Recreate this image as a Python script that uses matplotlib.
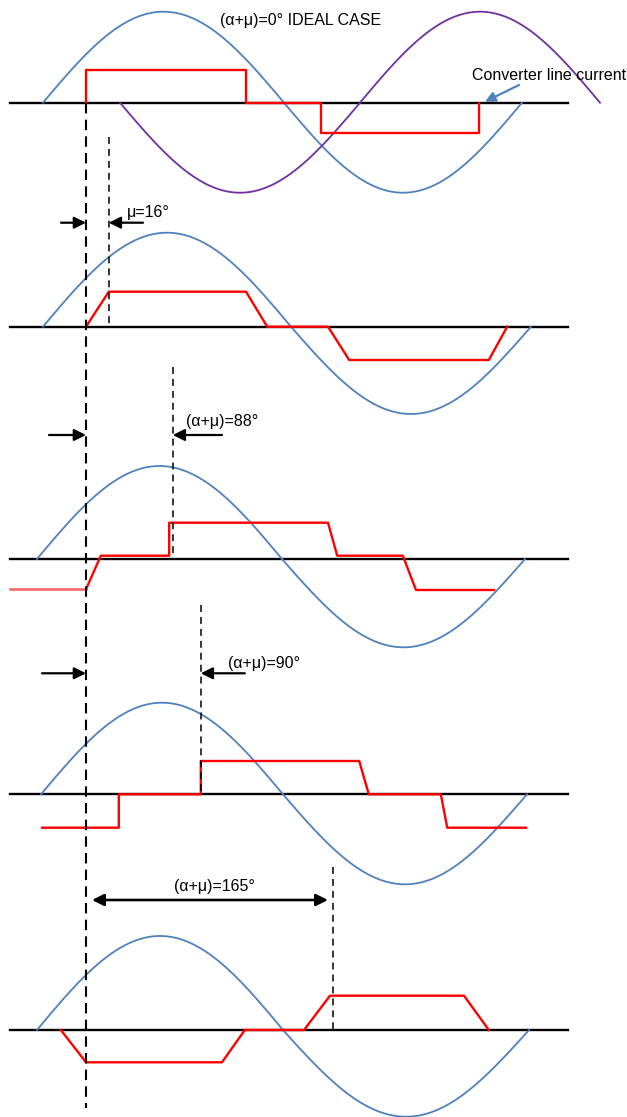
import numpy as np
import matplotlib
matplotlib.use("Agg")
import matplotlib.pyplot as plt

plt.rcParams['font.family'] = ['Liberation Sans', 'DejaVu Sans']
plt.rcParams['lines.scale_dashes'] = False

# everything is in picture pixels (x right, y down)
axis_y = [102.7, 326.7, 559.0, 794.3, 1030.0]
axis_x = [10, 568]

# supply voltage: rising zero, middle zero, end zero, peak y, trough y
blue_start = [43, 43, 37, 41, 37]
blue_cross = [284, 291, 282, 283, 283]
blue_end = [522, 531, 525, 527, 529]
blue_peak = [11.7, 232.7, 466.0, 702.7, 936.0]
blue_trough = [192.7, 414.0, 647.3, 884.3, 1116.7]

# second phase voltage in the ideal case (goes negative first)
purple_start, purple_cross, purple_end = 120, 360, 600
purple_trough, purple_peak = 192.7, 11.7

# converter line current corners
red_x = [
    [86, 86, 246, 246, 321, 321, 479, 479],
    [86, 108.8, 246, 267.2, 328, 349.2, 488.8, 507.2],
    [86, 100.8, 169.2, 169.2, 328, 337.2, 402.8, 416, 494],
    [42, 118.8, 118.8, 200.8, 200.8, 359.2, 368.8, 440.8, 447.2, 526],
    [60.8, 86, 222, 244.8, 304, 330, 464, 488.8],
]
red_y = [
    [102.7, 70, 70, 102.7, 102.7, 133.3, 133.3, 102.7],
    [326.7, 291.7, 291.7, 326.7, 326.7, 360, 360, 326.7],
    [589.3, 555.7, 555.7, 522.7, 522.7, 555.7, 555.7, 590, 590],
    [827.7, 827.7, 794.3, 794.3, 761, 761, 794.3, 794.3, 827.7, 827.7],
    [1030, 1062.3, 1062.3, 1030, 1030, 995.7, 995.7, 1030],
]
# faded lead-in of the current in the 88 degree case
lead_x = [10, 86]
lead_y = [589.3, 589.3]

# firing reference line and the end-of-overlap markers
alpha_x = 86
alpha_y = [103, 1108]
mark_x = [108.8, 172.8, 200.8, 332.8]
mark_top = [137, 366.7, 605, 866.7]
mark_bot = [326.7, 559, 794.3, 1030]

labels = ["μ=16°", "(α+μ)=88°", "(α+μ)=90°"]
label_x = [127, 186, 228]
label_y = [212.7, 421.7, 663.3]
arrow_y = [222.7, 435, 673.3]
arrow_in_x = [61, 49, 42]
arrow_out_x = [143, 222, 244.8]

BLUE = '#4f81bd'
PURPLE = '#7030a0'
RED = '#ff0000'
FS = 11.5


def half_wave(x0, x1, y0, y_ext):
    x = np.linspace(x0, x1, 120)
    return x, y0 + (y_ext - y0) * np.sin(np.pi * (x - x0) / (x1 - x0))


fig = plt.figure(figsize=(6.27, 11.17), dpi=100)
ax = fig.add_axes([0, 0, 1, 1])
ax.set_xlim(0, 627)
ax.set_ylim(1117, 0)
ax.axis('off')

for i in range(5):
    ay = axis_y[i]
    ax.plot(axis_x, [ay, ay], color='black', lw=1.7, zorder=2)
    x, y = half_wave(blue_start[i], blue_cross[i], ay, blue_peak[i])
    ax.plot(x, y, color=BLUE, lw=1.3, zorder=3)
    x, y = half_wave(blue_cross[i], blue_end[i], ay, blue_trough[i])
    ax.plot(x, y, color=BLUE, lw=1.3, zorder=3)
    ax.plot(red_x[i], red_y[i], color=RED, lw=1.7, zorder=4)

ax.plot(lead_x, lead_y, color='#f46a6a', lw=1.9, zorder=4)

x, y = half_wave(purple_start, purple_cross, axis_y[0], purple_trough)
ax.plot(x, y, color=PURPLE, lw=1.3, zorder=3)
x, y = half_wave(purple_cross, purple_end, axis_y[0], purple_peak)
ax.plot(x, y, color=PURPLE, lw=1.3, zorder=3)

ax.plot([alpha_x, alpha_x], alpha_y, color='black', lw=1.5,
        dashes=(7.5, 4.5), zorder=5)
for mx, t, b in zip(mark_x, mark_top, mark_bot):
    ax.plot([mx, mx], [t, b], color='black', lw=1.1, dashes=(5, 3.6), zorder=5)

arrow = dict(arrowstyle='-|>,head_length=0.7,head_width=0.35',
             color='black', lw=1.6, shrinkA=0, shrinkB=0)
for i in range(3):
    ax.text(label_x[i], label_y[i], labels[i], fontsize=FS, ha='left', va='center')
    ax.annotate('', xy=(alpha_x, arrow_y[i]), xytext=(arrow_in_x[i], arrow_y[i]),
                arrowprops=arrow)
    ax.annotate('', xy=(mark_x[i], arrow_y[i]), xytext=(arrow_out_x[i], arrow_y[i]),
                arrowprops=arrow)

ax.text(214, 886.7, "(α+μ)=165°", fontsize=FS, ha='center', va='center')
ax.annotate('', xy=(92, 900), xytext=(328, 900),
            arrowprops=dict(arrowstyle='<|-|>,head_length=0.7,head_width=0.35',
                            color='black', lw=1.9, shrinkA=0, shrinkB=0))

ax.text(301, 20, "(α+μ)=0° IDEAL CASE", fontsize=FS, ha='center', va='center')
ax.text(472, 75, "Converter line current", fontsize=FS, ha='left', va='center')
ax.annotate('', xy=(485, 101.7), xytext=(519, 85),
            arrowprops=dict(arrowstyle='-|>,head_length=0.6,head_width=0.3',
                            color=BLUE, lw=1.6, shrinkA=0, shrinkB=0))

fig.savefig('out.png', dpi=100)
